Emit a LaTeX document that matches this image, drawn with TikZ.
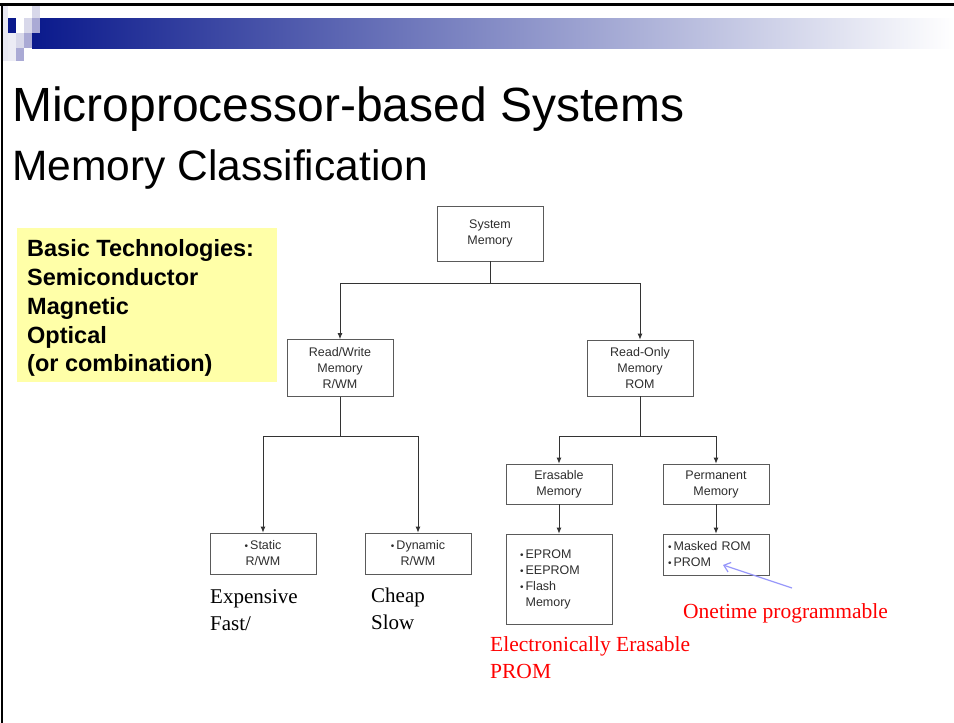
\documentclass[tikz,border=0pt]{standalone}
\usepackage{fontspec}
\setmainfont{Liberation Serif}
\setsansfont{Liberation Sans}
\usepackage{xcolor}
\usepackage{tikz}
\usetikzlibrary{arrows.meta}
\definecolor{bardark}{RGB}{10,25,140}
\definecolor{sqlight}{RGB}{216,216,234}
\definecolor{sqmid}{RGB}{170,170,213}
\definecolor{notebg}{RGB}{255,255,168}
\definecolor{boxtext}{RGB}{45,45,45}
\definecolor{boxline}{RGB}{90,90,90}
\definecolor{hintblue}{RGB}{150,150,250}
\newcommand{\bul}{{\fontsize{10}{10}\selectfont\textbullet}\,}
\tikzset{mem/.style={draw=boxline,line width=0.8pt,minimum width=106pt,text=boxtext,
    font=\sffamily\fontsize{12.5}{16}\selectfont,align=center,inner sep=0pt},
    link/.style={draw=black!80,line width=0.8pt,-{Latex[length=6pt,width=5pt]}},
    note/.style={font=\rmfamily\fontsize{21}{27}\selectfont,anchor=north west,
    align=left,inner sep=0pt},
    rednote/.style={note,text=red,font=\rmfamily\fontsize{21.5}{27}\selectfont}}

\begin{document}
\begin{tikzpicture}[x=1pt,y=-1pt]
    \useasboundingbox (0,0) rectangle (954,723);
    \draw[line width=2.5pt] (0,4.5) -- (954,4.5);
    \draw[line width=2pt] (1.5,4.5) -- (1.5,723);
    \shade[left color=bardark,right color=white] (32,18) rectangle (954,48);
    \fill[sqlight!60] (3,6) rectangle (8,61);
    \fill[sqlight!50] (8,33) rectangle (16,61);
    \fill[bardark] (8,18) rectangle (16,33);
    \fill[sqlight] (24,18) rectangle (32,33);
    \fill[sqmid] (32,18) rectangle (40,33);
    \fill[sqlight] (32,6) rectangle (40,18);
    \fill[sqlight] (16,33) rectangle (24,48);
    \fill[sqmid] (24,33) rectangle (32,48);
    \fill[sqmid] (16,48) rectangle (24,61);

    \node[anchor=base west,inner sep=0pt,font=\sffamily\fontsize{48}{48}\selectfont]
        (title) at (12,121) {Microprocessor-based Systems};
    \node[anchor=base west,inner sep=0pt,font=\sffamily\fontsize{42.5}{42.5}\selectfont]
        (subtitle) at (12,180) {Memory Classification};
    \fill[notebg] (17,228) rectangle (277,382);
    \node[anchor=north west,inner sep=0pt,align=left,
        font=\sffamily\bfseries\fontsize{23.5}{28.8}\selectfont]
        (tech) at (27,239.5) {Basic Technologies:\\Semiconductor\\Magnetic\\Optical\\(or combination)};

    \node[mem,minimum height=55pt] (sys) at (490,233.5) {System\\Memory};
    \node[mem,minimum height=57pt] (rw) at (340,368) {Read/Write\\Memory\\R/WM};
    \node[mem,minimum height=56pt] (ro) at (640,368) {Read-Only\\Memory\\ROM};
    \node[mem,minimum height=41pt] (st) at (263,553.5) {\bul Static\\R/WM};
    \node[mem,minimum height=41pt] (dy) at (418,553.5) {\bul Dynamic\\R/WM};
    \node[mem,minimum height=40pt] (er) at (559,484) {Erasable\\Memory};
    \node[mem,minimum height=40pt] (pm) at (716,484) {Permanent\\Memory};
    \node[mem,minimum height=90pt,align=left,text width=78pt,inner xsep=14pt]
        (ep) at (559,579) {\bul EPROM\\\bul EEPROM\\\bul Flash\\\hphantom{\bul}Memory};
    \node[mem,minimum height=41pt,align=left,text width=96pt,inner xsep=5pt]
        (mk) at (716,554.5) {\bul Masked ROM\\\bul PROM};

    \draw[link] (sys.south) -- ++(0,22) -| (rw.north);
    \draw[link] (sys.south) -- ++(0,22) -| (ro.north);
    \draw[link] (rw.south) -- ++(0,39) -| (st.north);
    \draw[link] (rw.south) -- ++(0,39) -| (dy.north);
    \draw[link] (ro.south) -- ++(0,40) -| (er.north);
    \draw[link] (ro.south) -- ++(0,40) -| (pm.north);
    \draw[link] (er) -- (ep);
    \draw[link] (pm) -- (mk);

    \node[note] (exp) at (210,589) {Expensive\\Fast/};
    \node[note] (chp) at (371,588) {Cheap\\Slow};
    \node[rednote] (eep) at (490,636) {Electronically Erasable\\PROM};
    \node[rednote] (otp) at (683,603) {Onetime programmable};
    \coordinate (tail) at (792,588);
    \coordinate (tip) at (723,565);
    \draw[hintblue,line width=1.2pt,-{Straight Barb[length=6pt,width=10pt]}] (tail) -- (tip);
\end{tikzpicture}
\end{document}
